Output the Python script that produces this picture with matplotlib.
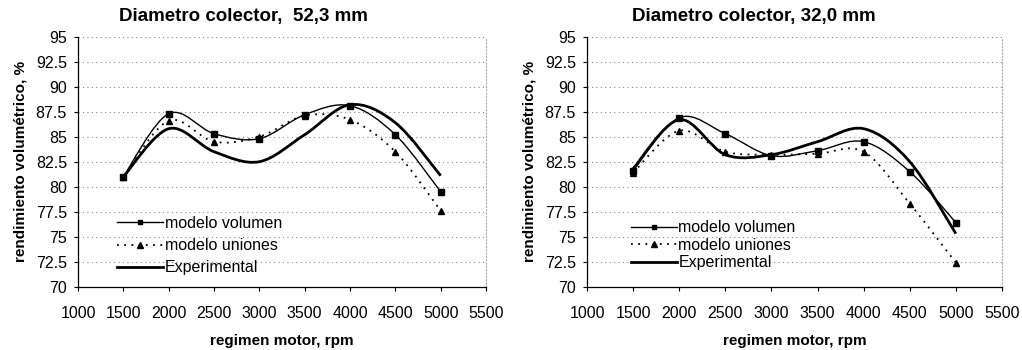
import matplotlib
matplotlib.use("Agg")
import matplotlib.pyplot as plt
from matplotlib.path import Path
from matplotlib.patches import PathPatch
from matplotlib.lines import Line2D
import numpy as np

plt.rcParams['font.family'] = ['Liberation Sans', 'DejaVu Sans']

rpm = [1500, 2000, 2500, 3000, 3500, 4000, 4500, 5000]

vol_52 = [81.0, 87.3, 85.3, 84.8, 87.2, 88.1, 85.2, 79.5]
uni_52 = [81.0, 86.6, 84.5, 85.0, 87.1, 86.7, 83.5, 77.6]
exp_52 = [81.0, 85.8, 83.5, 82.5, 85.2, 88.2, 86.4, 81.1]

vol_32 = [81.6, 86.9, 85.3, 83.1, 83.6, 84.5, 81.5, 76.4]
uni_32 = [81.4, 85.6, 83.5, 83.2, 83.3, 83.5, 78.3, 72.4]
exp_32 = [81.8, 86.7, 83.2, 83.2, 84.5, 85.8, 82.5, 75.3]

titles = ["Diametro colector,  52,3 mm", "Diametro colector, 32,0 mm"]
labels = ["modelo volumen", "modelo uniones", "Experimental"]
xlabel = "regimen motor, rpm"
ylabel = "rendimiento volumétrico, %"
xticks = [1000, 1500, 2000, 2500, 3000, 3500, 4000, 4500, 5000, 5500]
yticks = [70, 72.5, 75, 77.5, 80, 82.5, 85, 87.5, 90, 92.5, 95]
ytick_labels = ["70", "72.5", "75", "77.5", "80", "82.5", "85", "87.5", "90", "92.5", "95"]


def smooth_path(x, y):
    """Excel-style smoothed line as cubic Bezier segments (Catmull-Rom)."""
    P = np.column_stack([x, y]).astype(float)
    n = len(P)
    verts = [P[0]]
    codes = [Path.MOVETO]
    for i in range(n - 1):
        p0 = P[i - 1] if i > 0 else P[i]
        p1 = P[i]
        p2 = P[i + 1]
        p3 = P[i + 2] if i + 2 < n else P[i + 1]
        c1 = p1 + (p2 - p0) / 6.0
        c2 = p2 - (p3 - p1) / 6.0
        verts += [c1, c2, p2]
        codes += [Path.CURVE4] * 3
    return Path(verts, codes)


fig = plt.figure(figsize=(10.22, 3.5), dpi=100)

axes_rects = [
    [78 / 1022, 63.3 / 350, 408 / 1022, 250 / 350],
    [587 / 1022, 63.3 / 350, 415 / 1022, 250 / 350],
]
series = [(vol_52, uni_52, exp_52), (vol_32, uni_32, exp_32)]
title_x = [243 / 1022, 754 / 1022]
legend_anchor = [(0.095, 0.045), (0.105, 0.065)]
legend_spacing = [0.45, 0.16]

for k in range(2):
    ax = fig.add_axes(axes_rects[k])
    vol, uni, exp = series[k]

    ax.set_xlim(1000, 5500)
    ax.set_ylim(70, 95)
    ax.set_xticks(xticks)
    ax.set_xticklabels([str(t) for t in xticks])
    ax.set_yticks(yticks)
    ax.set_yticklabels(ytick_labels)
    ax.tick_params(axis='both', labelsize=11.5, length=3, width=0.8, color='black')
    ax.tick_params(axis='x', pad=11)
    ax.tick_params(axis='y', pad=5)

    for yv in yticks[1:]:
        ax.axhline(yv, color='#888888', linestyle=(0, (1, 3)), linewidth=0.8, zorder=0)

    ax.spines['top'].set_visible(False)
    ax.spines['right'].set_linestyle((0, (1, 2)))
    ax.spines['right'].set_color('#aaaaaa')
    ax.spines['right'].set_linewidth(0.8)
    ax.spines['left'].set_linewidth(0.9)
    ax.spines['bottom'].set_linewidth(0.9)

    ax.add_patch(PathPatch(smooth_path(rpm, exp), fill=False, edgecolor='black',
                           linewidth=2.0, zorder=3))
    ax.add_patch(PathPatch(smooth_path(rpm, vol), fill=False, edgecolor='black',
                           linewidth=1.0, zorder=4))
    ax.add_patch(PathPatch(smooth_path(rpm, uni), fill=False, edgecolor='black',
                           linewidth=1.3, linestyle=(0, (1, 3)), zorder=4))
    ax.plot(rpm, vol, linestyle='none', marker='s', markersize=4.5, color='black', zorder=5)
    ax.plot(rpm, uni, linestyle='none', marker='^', markersize=5, color='black', zorder=5)

    handles = [
        Line2D([], [], color='black', linewidth=1.0, marker='s', markersize=3.5),
        Line2D([], [], color='black', linewidth=1.3, linestyle=(0, (1, 3)), marker='^', markersize=4.5),
        Line2D([], [], color='black', linewidth=2.0),
    ]
    ax.legend(handles, labels, loc='lower left', bbox_to_anchor=legend_anchor[k],
              frameon=False, fontsize=11.5, handlelength=2.9, handletextpad=0.1,
              borderpad=0, borderaxespad=0, labelspacing=legend_spacing[k])

    ax.set_xlabel(xlabel, fontsize=11, fontweight='bold', labelpad=9)
    ax.set_ylabel(ylabel, fontsize=11, fontweight='bold', labelpad=6)

    fig.text(title_x[k], 1 - 17 / 350, titles[k], ha='center', va='center',
             fontsize=13.5, fontweight='bold')

fig.savefig("out.png", dpi=100)
